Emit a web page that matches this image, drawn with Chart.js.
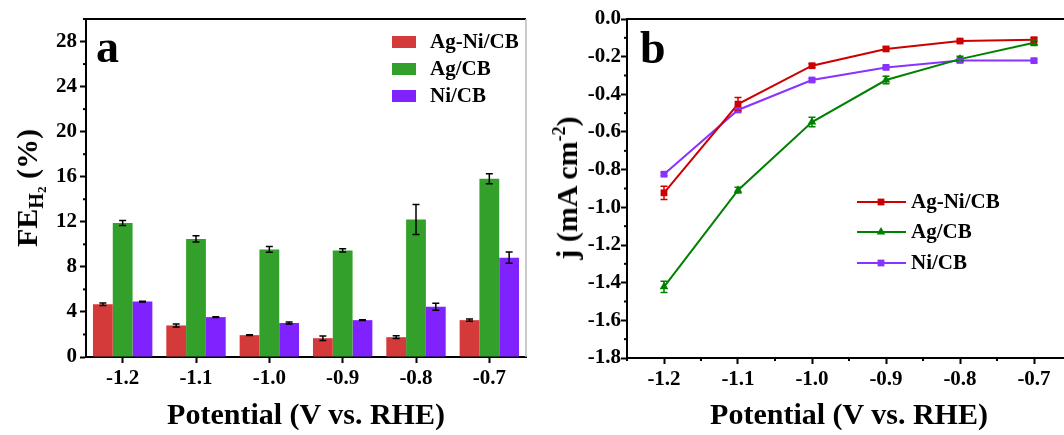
<!DOCTYPE html>
<html>
<head>
<meta charset="utf-8">
<script src="https://cdn.jsdelivr.net/npm/chart.js@4.4.0/dist/chart.umd.min.js"></script>
<style>
html, body { margin: 0; padding: 0; background: #fff; overflow: hidden; width: 1064px; height: 435px; }
#wrapA { position: absolute; left: 0; top: 0; width: 540px; height: 435px; }
#wrapB { position: absolute; left: 540px; top: 0; width: 560px; height: 435px; }
.lbl { position: absolute; font-family: "Liberation Serif", "Times New Roman", serif; font-weight: bold; color: #000; line-height: 1; white-space: nowrap; }
.xt { font-size: 30px; transform: translateX(-50%); }
.yt { font-size: 30px; transform: translate(-50%, -50%) rotate(-90deg); }
</style>
</head>
<body>
<div id="wrapA"><canvas id="fe" width="540" height="435"></canvas></div>
<div id="wrapB"><canvas id="jcur" width="560" height="435"></canvas></div>

<div class="lbl" style="left:96px; top:24px; font-size:46px;">a</div>
<div class="lbl" style="left:640px; top:25px; font-size:46px;">b</div>
<div class="lbl xt" style="left:306px; top:399px;">Potential (V vs. RHE)</div>
<div class="lbl xt" style="left:849px; top:399px;">Potential (V vs. RHE)</div>
<div class="lbl yt" style="left:27px; top:188px;">FE<span style="font-size:20px; position:relative; top:6px;">H<span style="font-size:13px; position:relative; top:3px;">2</span></span> (%)</div>
<div class="lbl yt" style="left:567px; top:188px;">j (mA cm<span style="font-size:18px; position:relative; top:-12px;">-2</span>)</div>

<script>
// panel a: FE of H2
const potentials = ['-1.2', '-1.1', '-1.0', '-0.9', '-0.8', '-0.7'];
const feAgNi = [4.68, 2.8, 1.94, 1.67, 1.76, 3.27];
const feAgNiErr = [0.12, 0.13, 0.04, 0.2, 0.12, 0.1];
const feAg = [11.9, 10.48, 9.55, 9.46, 12.2, 15.82];
const feAgErr = [0.22, 0.28, 0.26, 0.15, 1.33, 0.45];
const feNi = [4.92, 3.54, 3.02, 3.27, 4.46, 8.82];
const feNiErr = [0.03, 0.03, 0.08, 0.03, 0.3, 0.5];
const feTicks = [0, 2, 4, 6, 8, 10, 12, 14, 16, 18, 20, 22, 24, 26, 28, 30];

// panel b: current density
const potentialV = [-1.2, -1.1, -1.0, -0.9, -0.8, -0.7];
const jAgNi = [-0.923, -0.452, -0.248, -0.159, -0.117, -0.11];
const jAgNiErr = [0.035, 0.035, 0.01, 0.01, 0.008, 0.01];
const jAg = [-1.422, -0.909, -0.547, -0.324, -0.213, -0.126];
const jAgErr = [0.03, 0.015, 0.025, 0.02, 0.015, 0.015];
const jNi = [-0.824, -0.483, -0.324, -0.257, -0.22, -0.221];
const jNiErr = [0.008, 0.01, 0.008, 0.008, 0.008, 0.008];
const jTicks = [-1.8, -1.7, -1.6, -1.5, -1.4, -1.3, -1.2, -1.1, -1.0, -0.9, -0.8, -0.7, -0.6, -0.5, -0.4, -0.3, -0.2, -0.1, 0];
const vTicks = [-1.25, -1.2, -1.15, -1.1, -1.05, -1.0, -0.95, -0.9, -0.85, -0.8, -0.75, -0.7, -0.65];

const serif = "'Liberation Serif', 'Times New Roman', serif";
const tickFont = { family: serif, size: 21, weight: 'bold' };

const errorBars = {
    id: 'errorBars',
    afterDatasetsDraw(chart) {
        const ctx = chart.ctx;
        chart.data.datasets.forEach((ds, i) => {
            if (!ds.errors) return;
            const meta = chart.getDatasetMeta(i);
            const yScale = chart.scales[meta.yAxisID];
            ctx.save();
            ctx.strokeStyle = ds.errorColor || '#000';
            ctx.lineWidth = 1.5;
            meta.data.forEach((el, k) => {
                const raw = ds.data[k];
                const v = typeof raw === 'object' ? raw.y : raw;
                const top = yScale.getPixelForValue(v + ds.errors[k]);
                const bot = yScale.getPixelForValue(v - ds.errors[k]);
                const cap = ds.capWidth || 3.5;
                ctx.beginPath();
                ctx.moveTo(el.x, top); ctx.lineTo(el.x, bot);
                ctx.moveTo(el.x - cap, top); ctx.lineTo(el.x + cap, top);
                ctx.moveTo(el.x - cap, bot); ctx.lineTo(el.x + cap, bot);
                ctx.stroke();
            });
            ctx.restore();
        });
    }
};

// box lines + short minor ticks
const frame = {
    id: 'frame',
    afterDraw(chart, args, opts) {
        const ctx = chart.ctx;
        const a = chart.chartArea;
        ctx.save();
        ctx.strokeStyle = '#000';
        ctx.lineWidth = 2;
        ctx.beginPath();
        ctx.moveTo(a.left - 1, a.top);
        ctx.lineTo(opts.toEdge ? chart.width : a.right, a.top);
        ctx.stroke();
        if (opts.right) {
            ctx.strokeStyle = opts.rightColor;
            ctx.lineWidth = 1.5;
            ctx.beginPath();
            ctx.moveTo(a.right, a.top);
            ctx.lineTo(a.right, a.bottom);
            ctx.stroke();
        }
        ctx.strokeStyle = '#000';
        ctx.lineWidth = 2;
        (opts.minor || []).forEach(id => {
            const s = chart.scales[id];
            s.ticks.forEach(t => {
                if (t.label !== '') return;
                const p = s.getPixelForValue(t.value);
                ctx.beginPath();
                if (s.isHorizontal()) { ctx.moveTo(p, s.top); ctx.lineTo(p, s.top + 3); }
                else { ctx.moveTo(s.right, p); ctx.lineTo(s.right - 3, p); }
                ctx.stroke();
            });
        });
        ctx.restore();
    }
};

const panelLegend = {
    id: 'panelLegend',
    afterDraw(chart, args, opts) {
        const ctx = chart.ctx;
        ctx.save();
        ctx.font = 'bold 21px ' + serif;
        ctx.textBaseline = 'middle';
        ctx.fillStyle = '#000';
        chart.data.datasets.forEach((ds, i) => {
            const y = opts.y + opts.dy[i];
            if (opts.kind === 'box') {
                ctx.fillStyle = ds.backgroundColor;
                ctx.fillRect(opts.x, y - 6, 24, 12);
            } else {
                ctx.strokeStyle = ds.borderColor;
                ctx.fillStyle = ds.borderColor;
                ctx.lineWidth = 2;
                ctx.beginPath();
                ctx.moveTo(opts.x, y); ctx.lineTo(opts.x + 49, y);
                ctx.stroke();
                Chart.helpers.drawPoint(ctx, { pointStyle: ds.pointStyle, radius: ds.pointRadius, rotation: 0, borderWidth: 0 }, opts.x + 24, y);
            }
            ctx.fillStyle = '#000';
            ctx.fillText(ds.label, opts.textX, y + 1);
        });
        ctx.restore();
    }
};

new Chart('fe', {
    type: 'bar',
    data: {
        labels: potentials,
        datasets: [
            { label: 'Ag-Ni/CB', data: feAgNi, errors: feAgNiErr, backgroundColor: '#d53a3a' },
            { label: 'Ag/CB', data: feAg, errors: feAgErr, backgroundColor: '#33a02c' },
            { label: 'Ni/CB', data: feNi, errors: feNiErr, backgroundColor: '#7f22fe' }
        ]
    },
    options: {
        responsive: false,
        animation: false,
        devicePixelRatio: 1,
        barPercentage: 1,
        categoryPercentage: 0.81,
        layout: { padding: { left: 0, right: 14, top: 19, bottom: 0 } },
        plugins: {
            legend: { display: false },
            tooltip: { enabled: false },
            frame: { right: true, rightColor: '#bbb', minor: ['y'] },
            panelLegend: { kind: 'box', x: 392, textX: 430, y: 42, dy: [0, 27, 54] }
        },
        scales: {
            x: {
                afterFit: s => { s.height = 78; },
                grid: { drawOnChartArea: false, offset: false, tickLength: 6, tickWidth: 2, tickColor: '#000' },
                border: { width: 2, color: '#000' },
                ticks: { font: tickFont, color: '#000', padding: 3, maxRotation: 0 }
            },
            y: {
                min: 0,
                max: 30,
                afterFit: s => { s.width = 86; },
                afterBuildTicks: s => { s.ticks = feTicks.map(v => ({ value: v })); },
                grid: {
                    drawOnChartArea: false, tickLength: 6, tickWidth: 2,
                    tickColor: c => (c.tick && c.tick.value % 4 !== 0) ? 'rgba(0,0,0,0)' : '#000'
                },
                border: { width: 2, color: '#000' },
                ticks: {
                    font: tickFont, color: '#000', padding: 3, autoSkip: false,
                    callback: v => v % 4 === 0 ? String(v) : ''
                }
            }
        }
    },
    plugins: [errorBars, frame, panelLegend]
});

new Chart('jcur', {
    type: 'line',
    data: {
        datasets: [
            {
                label: 'Ag-Ni/CB', data: potentialV.map((x, i) => ({ x: x, y: jAgNi[i] })), errors: jAgNiErr,
                borderColor: '#cc0000', backgroundColor: '#cc0000', errorColor: '#cc0000',
                pointStyle: 'rect', pointRadius: 4.8
            },
            {
                label: 'Ag/CB', data: potentialV.map((x, i) => ({ x: x, y: jAg[i] })), errors: jAgErr,
                borderColor: '#008000', backgroundColor: '#008000', errorColor: '#008000',
                pointStyle: 'triangle', pointRadius: 5
            },
            {
                label: 'Ni/CB', data: potentialV.map((x, i) => ({ x: x, y: jNi[i] })), errors: jNiErr,
                borderColor: '#8833ff', backgroundColor: '#8833ff', errorColor: '#8833ff',
                pointStyle: 'rect', pointRadius: 4.8
            }
        ]
    },
    options: {
        responsive: false,
        animation: false,
        devicePixelRatio: 1,
        elements: { line: { borderWidth: 2, tension: 0 }, point: { borderWidth: 0 } },
        layout: { padding: { left: 0, right: 29, top: 19, bottom: 0 } },
        plugins: {
            legend: { display: false },
            tooltip: { enabled: false },
            frame: { toEdge: true, minor: ['x', 'y'] },
            panelLegend: { kind: 'line', x: 317, textX: 371, y: 202, dy: [0, 30, 61] }
        },
        scales: {
            x: {
                type: 'linear',
                min: -1.25,
                max: -0.65,
                afterFit: s => { s.height = 77; },
                afterBuildTicks: s => { s.ticks = vTicks.map(v => ({ value: v })); },
                grid: {
                    drawOnChartArea: false, tickLength: 6, tickWidth: 2,
                    tickColor: c => (c.tick && Math.round(c.tick.value * 100) % 10 !== 0) ? 'rgba(0,0,0,0)' : '#000'
                },
                border: { width: 2, color: '#000' },
                ticks: {
                    font: tickFont, color: '#000', padding: 3, autoSkip: false, maxRotation: 0,
                    callback: v => Math.round(v * 100) % 10 === 0 ? v.toFixed(1) : ''
                }
            },
            y: {
                min: -1.8,
                max: 0,
                afterFit: s => { s.width = 87; },
                afterBuildTicks: s => { s.ticks = jTicks.map(v => ({ value: v })); },
                grid: {
                    drawOnChartArea: false, tickLength: 6, tickWidth: 2,
                    tickColor: c => (c.tick && Math.round(c.tick.value * 10) % 2 !== 0) ? 'rgba(0,0,0,0)' : '#000'
                },
                border: { width: 2, color: '#000' },
                ticks: {
                    font: tickFont, color: '#000', padding: 0, autoSkip: false,
                    callback: v => Math.round(v * 10) % 2 === 0 ? v.toFixed(1) : ''
                }
            }
        }
    },
    plugins: [errorBars, frame, panelLegend]
});
</script>
</body>
</html>
